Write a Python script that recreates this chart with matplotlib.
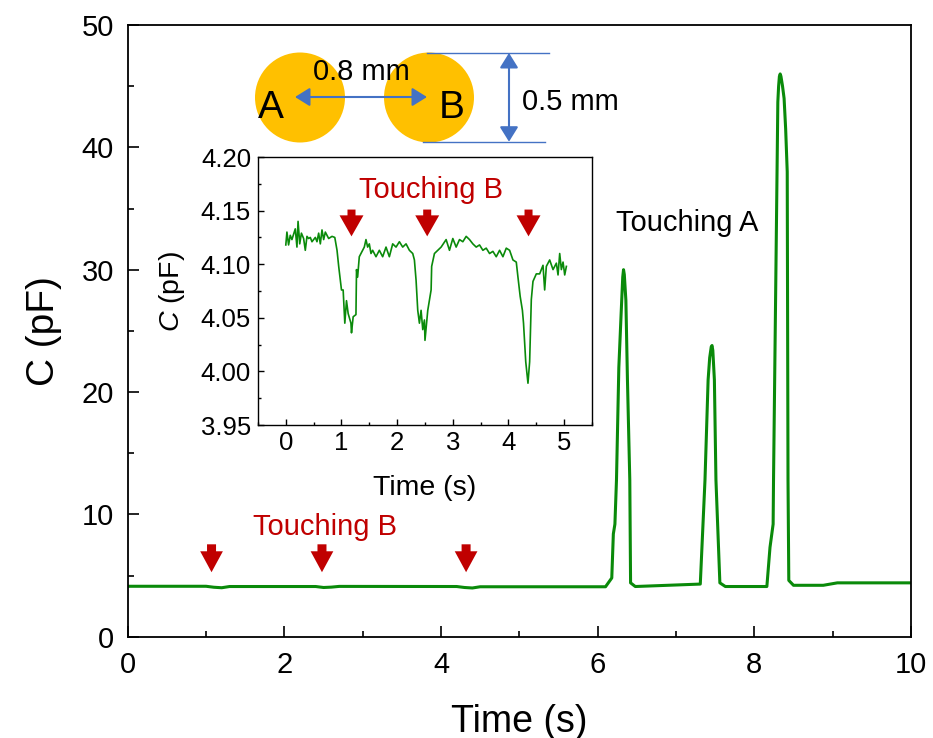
import matplotlib
matplotlib.use("Agg")
import matplotlib.pyplot as plt
from matplotlib.patches import Circle, FancyArrow
from matplotlib.ticker import MultipleLocator, FormatStrFormatter

plt.rcParams['font.family'] = 'Liberation Sans'
plt.rcParams['mathtext.fontset'] = 'custom'
plt.rcParams['mathtext.rm'] = 'Liberation Sans'
plt.rcParams['mathtext.it'] = 'Liberation Sans:italic'

# full recording: baseline while touching B, then three spikes while touching A
t_main = [0.0, 1.0, 1.1, 1.2, 1.3, 2.4, 2.5, 2.6, 2.7, 4.2, 4.3, 4.4, 4.5,
          6.10, 6.18, 6.20, 6.22, 6.24, 6.27, 6.30, 6.32, 6.33, 6.34, 6.36, 6.38,
          6.41, 6.42, 6.48,
          7.31, 7.37, 7.41, 7.43, 7.45, 7.46, 7.47, 7.49, 7.51, 7.56, 7.63,
          8.16, 8.20, 8.24, 8.245, 8.29, 8.30, 8.31, 8.32, 8.33, 8.34, 8.36, 8.38,
          8.40, 8.42, 8.43, 8.44, 8.50, 8.88, 9.06, 10.0]
c_main = [4.12, 4.12, 4.04, 4.00, 4.10, 4.10, 4.02, 4.05, 4.11, 4.10, 4.02, 3.98, 4.08,
          4.08, 4.8, 8.4, 9.2, 12.8, 22.0, 26.5, 29.4, 30.0, 29.6, 27.5, 21.0,
          12.8, 4.4, 4.1,
          4.3, 12.8, 21.0, 22.8, 23.7, 23.8, 23.4, 21.0, 12.8, 4.4, 4.1,
          4.1, 7.3, 9.2, 12.8, 38.0, 43.7, 45.0, 45.8, 46.0, 45.8, 45.0, 44.0,
          41.5, 38.0, 12.8, 4.6, 4.2, 4.2, 4.4, 4.4]

# zoomed first 5 s
t_zoom = [0.00, 0.02, 0.05, 0.08, 0.11, 0.17, 0.20, 0.22, 0.25, 0.28, 0.32, 0.35, 0.38,
          0.41, 0.44, 0.47, 0.53, 0.56, 0.59, 0.62, 0.65, 0.68, 0.71, 0.77, 0.83, 0.88,
          0.92, 0.95, 1.00, 1.03, 1.06, 1.09, 1.12, 1.17, 1.18, 1.21, 1.26, 1.27, 1.29,
          1.32, 1.38, 1.41, 1.44, 1.47, 1.50, 1.53, 1.56, 1.62, 1.68, 1.74, 1.80, 1.86,
          1.92, 1.98, 2.04, 2.10, 2.16, 2.22, 2.28, 2.31, 2.34, 2.37, 2.40, 2.43, 2.46,
          2.49, 2.50, 2.55, 2.61, 2.62, 2.67, 2.73, 2.79, 2.88, 2.94, 3.00, 3.06, 3.12,
          3.18, 3.24, 3.30, 3.36, 3.42, 3.48, 3.54, 3.60, 3.66, 3.72, 3.78, 3.84, 3.90,
          3.96, 4.02, 4.08, 4.14, 4.17, 4.21, 4.25, 4.27, 4.31, 4.35, 4.38, 4.41, 4.44,
          4.50, 4.56, 4.62, 4.65, 4.68, 4.74, 4.80, 4.86, 4.89, 4.92, 4.95, 4.98, 5.01,
          5.04]
c_zoom = [4.118, 4.130, 4.118, 4.127, 4.123, 4.133, 4.116, 4.140, 4.119, 4.129, 4.124,
          4.113, 4.126, 4.124, 4.125, 4.121, 4.125, 4.121, 4.129, 4.119, 4.132, 4.123,
          4.130, 4.124, 4.126, 4.125, 4.113, 4.098, 4.076, 4.076, 4.045, 4.066, 4.054,
          4.045, 4.036, 4.051, 4.053, 4.095, 4.088, 4.107, 4.113, 4.116, 4.123, 4.116,
          4.119, 4.110, 4.113, 4.107, 4.113, 4.107, 4.116, 4.107, 4.119, 4.116, 4.121,
          4.116, 4.119, 4.113, 4.110, 4.104, 4.085, 4.057, 4.045, 4.057, 4.039, 4.048,
          4.029, 4.057, 4.076, 4.098, 4.110, 4.113, 4.116, 4.123, 4.113, 4.124, 4.116,
          4.123, 4.121, 4.126, 4.123, 4.119, 4.116, 4.118, 4.113, 4.115, 4.110, 4.112,
          4.107, 4.113, 4.107, 4.115, 4.113, 4.104, 4.102, 4.088, 4.070, 4.057, 4.045,
          4.009, 3.989, 4.009, 4.067, 4.084, 4.091, 4.091, 4.099, 4.076, 4.098, 4.104,
          4.095, 4.101, 4.090, 4.110, 4.095, 4.102, 4.090, 4.098]

touch_b_main = [1.07, 2.48, 4.32]
touch_b_zoom = [1.18, 2.54, 4.36]

GREEN = '#0a8a0a'
RED = '#c00000'
BLUE = '#4472c4'
GOLD = '#ffc000'

fig = plt.figure(figsize=(9.33, 7.38), dpi=100)

# main axes
ax = fig.add_axes([0.1369, 0.1373, 0.8395, 0.8288])
ax.plot(t_main, c_main, color=GREEN, lw=2.2, solid_joinstyle='round')
ax.set_xlim(0, 10)
ax.set_ylim(0, 50)
ax.xaxis.set_major_locator(MultipleLocator(2))
ax.xaxis.set_minor_locator(MultipleLocator(1))
ax.yaxis.set_major_locator(MultipleLocator(10))
ax.yaxis.set_minor_locator(MultipleLocator(5))
ax.tick_params(which='both', direction='in', width=1.2, labelsize=21)
ax.tick_params(which='major', length=8)
ax.tick_params(which='minor', length=4)
ax.tick_params(axis='x', pad=10)
ax.tick_params(axis='y', pad=10)
for s in ax.spines.values():
    s.set_linewidth(1.3)
ax.set_xlabel('Time (s)', fontsize=27, labelpad=18)
ax.set_ylabel('C (pF)', fontsize=28, labelpad=14)

for t in touch_b_main:
    ax.add_patch(FancyArrow(t, 7.55, 0, -2.28, width=0.115, head_width=0.29,
                            head_length=1.71, length_includes_head=True,
                            color=RED, lw=0))
ax.text(2.52, 8.94, 'Touching B', color=RED, fontsize=21, ha='center', va='center')
ax.text(7.14, 33.8, 'Touching A', color='black', fontsize=21, ha='center', va='center')

# inset with the first 5 s
ins = fig.add_axes([0.2765, 0.4241, 0.358, 0.3631])
ins.plot(t_zoom, c_zoom, color=GREEN, lw=1.2)
ins.set_xlim(-0.5, 5.5)
ins.set_ylim(3.95, 4.20)
ins.xaxis.set_major_locator(MultipleLocator(1))
ins.xaxis.set_minor_locator(MultipleLocator(0.5))
ins.yaxis.set_major_locator(MultipleLocator(0.05))
ins.yaxis.set_minor_locator(MultipleLocator(0.025))
ins.yaxis.set_major_formatter(FormatStrFormatter('%.2f'))
ins.tick_params(which='both', direction='in', width=1.0, labelsize=18.5)
ins.tick_params(which='major', length=4.5)
ins.tick_params(which='minor', length=2.5)
ins.tick_params(axis='x', pad=4)
ins.tick_params(axis='y', pad=5)
for s in ins.spines.values():
    s.set_linewidth(1.0)
ins.set_xlabel('Time (s)', fontsize=20.5, labelpad=15)
ins.set_ylabel('$C$ (pF)', fontsize=20.5, labelpad=10)

for t in touch_b_zoom:
    ins.add_patch(FancyArrow(t, 4.151, 0, -0.025, width=0.144, head_width=0.43,
                             head_length=0.0196, length_includes_head=True,
                             color=RED, lw=0))
ins.text(2.61, 4.169, 'Touching B', color=RED, fontsize=21, ha='center', va='center')

# electrode sketch, drawn in pixel units over the whole figure
sk = fig.add_axes([0, 0, 1, 1], zorder=5)
sk.set_xlim(0, 933)
sk.set_ylim(738, 0)
sk.axis('off')
sk.patch.set_visible(False)
sk.add_patch(Circle((300, 97.5), 45, color=GOLD, lw=0))
sk.add_patch(Circle((429, 97.5), 45, color=GOLD, lw=0))
sk.text(271, 107.5, 'A', fontsize=28, ha='center', va='center')
sk.text(452, 107.5, 'B', fontsize=28, ha='center', va='center')
sk.annotate('', xy=(427, 97), xytext=(295, 97),
            arrowprops=dict(arrowstyle='<|-|>,head_length=0.45,head_width=0.28',
                            color=BLUE, lw=1.5, mutation_scale=20,
                            shrinkA=0, shrinkB=0))
sk.text(361, 72, '0.8 mm', fontsize=21, ha='center', va='center')
sk.plot([427, 549], [52.7, 52.7], color=BLUE, lw=1.0)
sk.plot([423, 545], [141.7, 141.7], color=BLUE, lw=1.0)
sk.annotate('', xy=(509, 53), xytext=(509, 141.7),
            arrowprops=dict(arrowstyle='<|-|>,head_length=0.45,head_width=0.28',
                            color=BLUE, lw=1.5, mutation_scale=20,
                            shrinkA=0, shrinkB=0))
sk.text(522, 102, '0.5 mm', fontsize=21, ha='left', va='center')

fig.savefig('out.png', dpi=100)
